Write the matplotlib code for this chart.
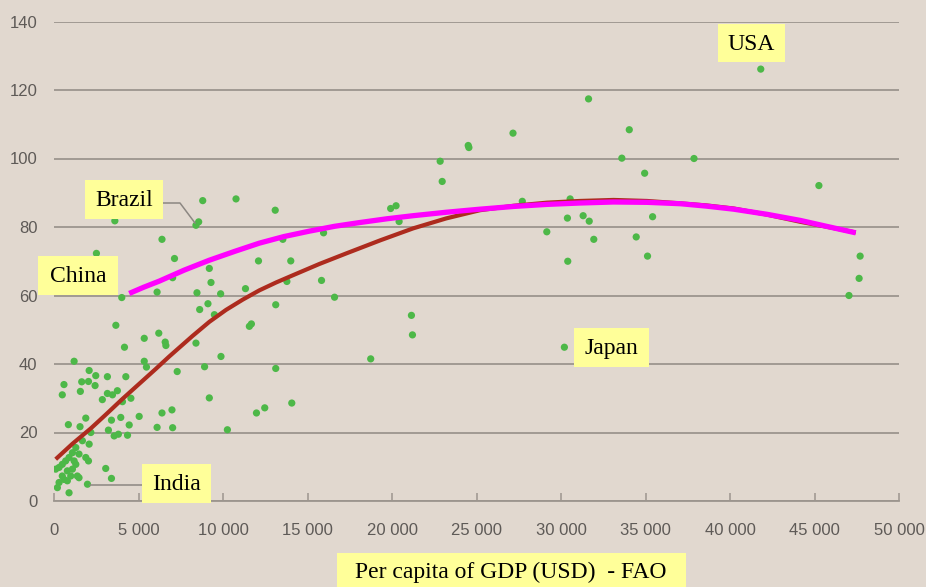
import matplotlib
matplotlib.use("Agg")
import matplotlib.pyplot as plt
from matplotlib.patches import Rectangle
from matplotlib.lines import Line2D

# ---------------- data ----------------
gdp_x = [1190, 590, 490, 1640, 2040, 2430, 1560, 2080, 2470, 3160, 4250, 3160, 3460,
         3750, 2860, 4050, 4550, 5040, 3400, 3950, 4450, 3220, 2180, 3560, 3810, 4350,
         1880, 850, 1540,
         1290, 1090, 1480, 1880, 2040, 890, 690, 490, 1190, 1290, 100, 300, 790, 1090,
         490, 590, 990, 1380, 1480, 300, 200, 790, 890, 1980, 3060, 3400, 1680, 2080,
         3600, 8800, 10770, 13090, 8560, 8400, 2510, 6390, 13540, 15950, 7130, 9190,
         12100, 14010, 7020, 9290, 13780, 15830, 11330, 8460, 9860, 16600, 6100, 4010,
         9110, 8620, 13120, 9490, 11680, 11560, 3660, 6200, 6580, 6620, 8400, 5340,
         4170, 5340, 5470, 9880, 7290, 8910, 13120, 9190, 14070, 6390, 6980, 11980,
         12470, 6100, 7020, 10260,
         31630, 34040, 27160, 24510, 24550, 22850, 33600, 34950, 22970, 27710, 30540,
         19920, 20240, 20420, 30380, 31310, 31670, 35420, 29160, 31940, 34450, 35120,
         30400, 21150, 21210, 18740, 30200, 41820, 37870, 45260, 47700, 47640, 47040]
food_y = [40.8, 34.0, 31.0, 34.8, 34.9, 33.7, 32.0, 38.1, 36.6, 36.3, 36.3, 31.4, 31.0,
          32.2, 29.6, 29.0, 30.0, 24.7, 23.6, 24.4, 22.2, 20.7, 20.0, 19.0, 19.5, 19.2,
          24.2, 22.3, 21.7,
          15.6, 14.1, 13.7, 12.7, 11.7, 12.7, 11.7, 10.7, 11.7, 10.7, 9.3, 9.8, 8.8, 9.3,
          7.3, 6.3, 7.3, 7.3, 6.8, 5.4, 3.9, 5.9, 2.4, 4.9, 9.5, 6.6, 17.6, 16.6,
          81.8, 87.7, 88.2, 84.9, 81.5, 80.5, 72.3, 76.4, 76.4, 78.3, 70.8, 67.9,
          70.1, 70.1, 65.2, 63.8, 64.1, 64.4, 62.0, 60.8, 60.5, 59.5, 61.0, 59.4,
          57.6, 55.9, 57.3, 54.4, 51.7, 51.0, 51.3, 49.0, 46.4, 45.4, 46.1, 47.5,
          44.9, 40.8, 39.1, 42.2, 37.8, 39.2, 38.7, 30.1, 28.6, 25.7, 26.6, 25.7,
          27.2, 21.5, 21.4, 20.8,
          117.4, 108.4, 107.4, 103.8, 103.2, 99.2, 100.1, 95.7, 93.3, 87.5, 88.2,
          85.4, 86.2, 81.6, 82.6, 83.3, 81.7, 83.0, 78.6, 76.4, 77.1, 71.5,
          70.0, 54.2, 48.5, 41.5, 44.9, 126.1, 100.0, 92.1, 71.5, 65.0, 60.0]

# trend line fitted on all countries (red)
fit_all_x = [100, 1090, 2180, 3060, 4050, 5040, 6030, 6820, 8200, 9190, 10180, 11170,
             12150, 13140, 14130, 15700, 17300, 19300, 21250, 23200, 25200, 27200,
             29160, 31100, 33110, 35100, 37060, 38600, 40220, 42200, 44180, 45800, 47440]
fit_all_y = [12.2, 16.7, 21.2, 25.2, 29.8, 34.2, 38.6, 42.2, 48.2, 52.3, 55.8, 58.8,
             61.5, 63.8, 65.9, 69.2, 72.3, 76.1, 79.6, 82.5, 84.9, 86.2,
             87.1, 87.6, 87.9, 87.6, 86.9, 86.3, 85.4, 83.6, 81.5, 80.0, 78.4]

# trend line from China onwards (magenta)
fit_sel_x = [4450, 5300, 6230, 7700, 9190, 10700, 12160, 13600, 15120, 16600, 18090,
             19700, 21250, 23200, 25200, 27200, 29160, 31100, 33110, 35100, 37060,
             38600, 40220, 42200, 44180, 45800, 47440]
fit_sel_y = [60.6, 62.4, 64.2, 67.4, 70.3, 72.9, 75.3, 77.2, 78.8, 80.2, 81.3,
             82.4, 83.3, 84.3, 85.2, 86.0, 86.6, 87.0, 87.3, 87.2, 86.8,
             86.1, 85.2, 83.7, 81.9, 80.1, 78.3]

x_ticks = [0, 5000, 10000, 15000, 20000, 25000, 30000, 35000, 40000, 45000, 50000]
x_tick_labels = ["0", "5 000", "10 000", "15 000", "20 000", "25 000", "30 000",
                 "35 000", "40 000", "45 000", "50 000"]
y_ticks = [0, 20, 40, 60, 80, 100, 120, 140]

country_labels = ["USA", "Brazil", "China", "India", "Japan"]
x_label = "Per capita of GDP (USD)  - FAO"

# ---------------- figure ----------------
W, H = 926, 587
BG = "#e1d8cf"
fig = plt.figure(figsize=(W / 100, H / 100), dpi=100, facecolor=BG)

def fx(px):
    return px / W

def fy(py):
    return 1 - py / H

ax_l, ax_r, ax_t, ax_b = 54, 899, 21.5, 501
ax = fig.add_axes([fx(ax_l), fy(ax_b), (ax_r - ax_l) / W, (ax_b - ax_t) / H])
ax.set_facecolor(BG)
ax.set_xlim(0, 50000)
ax.set_ylim(0, 140)

grid_c = "#9c958e"
for s in ["top", "right", "left"]:
    ax.spines[s].set_visible(False)
ax.spines["bottom"].set_color(grid_c)
ax.spines["bottom"].set_linewidth(1.3)

ax.set_yticks(y_ticks)
ax.set_yticklabels([str(v) for v in y_ticks])
ax.set_xticks(x_ticks)
ax.set_xticklabels(x_tick_labels)
ax.grid(axis="y", color=grid_c, linewidth=1.3)
ax.set_axisbelow(True)
ax.tick_params(axis="y", length=0, pad=12, labelsize=12, labelcolor="#5e5a57")
ax.tick_params(axis="x", direction="in", length=6, width=1.1, color=grid_c,
               pad=16, labelsize=12, labelcolor="#5e5a57")
for lab in ax.get_xticklabels() + ax.get_yticklabels():
    lab.set_fontfamily(["Liberation Sans", "DejaVu Sans"])

ax.scatter(gdp_x, food_y, s=27, color="#4db848", edgecolors="none", zorder=2)
ax.plot(fit_all_x, fit_all_y, color="#ad2b1e", linewidth=3.0, zorder=3,
        solid_capstyle="butt", solid_joinstyle="round")
ax.plot(fit_sel_x, fit_sel_y, color="#ff00ff", linewidth=3.8, zorder=4,
        solid_capstyle="butt", solid_joinstyle="round")

# leader lines (figure pixel coords)
lc = "#8c8782"
fig.lines.append(Line2D([fx(90), fx(142)], [fy(485), fy(485)], color=lc, lw=1.1,
                        transform=fig.transFigure))
fig.lines.append(Line2D([fx(163), fx(180), fx(195)], [fy(203), fy(203), fy(223)],
                        color=lc, lw=1.1, transform=fig.transFigure))

# label boxes
boxes = [(718, 24, 785, 62), (85, 180, 163, 219), (38, 256, 118, 295),
         (142, 464, 211, 503), (574, 328, 649, 367)]
yellow = "#ffff99"
for name, (x0, y0, x1, y1) in zip(country_labels, boxes):
    fig.patches.append(Rectangle((fx(x0), fy(y1)), (x1 - x0) / W, (y1 - y0) / H,
                                 transform=fig.transFigure, facecolor=yellow,
                                 edgecolor="none", zorder=5))
    fig.text(fx((x0 + x1) / 2), fy((y0 + y1) / 2 + 1), name, ha="center", va="center",
             fontsize=17, family="Liberation Serif", color="black", zorder=6)

# bottom axis label
fig.patches.append(Rectangle((fx(337), 0), (686 - 337) / W, (587 - 553) / H,
                             transform=fig.transFigure, facecolor=yellow,
                             edgecolor="none", zorder=5))
fig.text(fx(511), fy(572), x_label, ha="center", va="center", fontsize=17,
         family="Liberation Serif", color="black", zorder=6)

fig.savefig("out.png", dpi=100, facecolor=BG)
